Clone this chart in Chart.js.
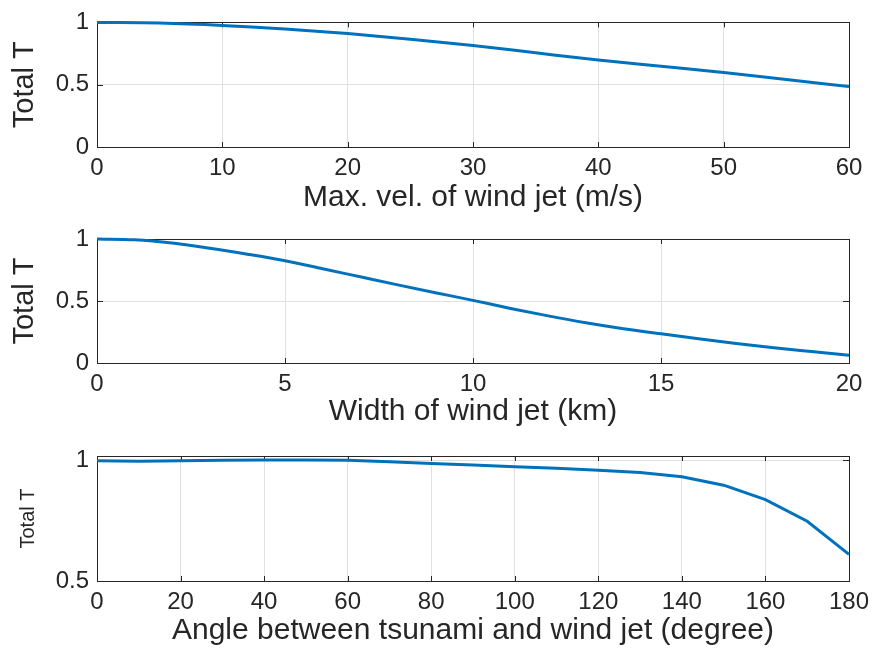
<!DOCTYPE html>
<html>
<head>
<meta charset="utf-8">
<script src="https://cdn.jsdelivr.net/npm/chart.js@4.4.1/dist/chart.umd.min.js"></script>
<style>
  body { margin: 0; background: #fff; }
  #wrap { position: relative; width: 877px; height: 658px; }
  canvas { position: absolute; left: 0; }
</style>
</head>
<body>
<div id="wrap">
  <canvas id="c1" width="877" height="216" style="top:0px"></canvas>
  <canvas id="c2" width="877" height="214" style="top:216px"></canvas>
  <canvas id="c3" width="877" height="228" style="top:430px"></canvas>
</div>
<script>
// Panel 1: max. velocity of wind jet (m/s)
const velX = [0, 5, 10, 15, 20, 25, 30, 35, 40, 45, 50, 55, 60];
const velT = [1.0, 0.995, 0.976, 0.947, 0.910, 0.865, 0.815, 0.756, 0.698, 0.648, 0.597, 0.541, 0.486];
const velTicks = [0, 10, 20, 30, 40, 50, 60];

// Panel 2: width of wind jet (km)
const widthX = [0, 1, 2, 3, 4, 5, 6, 7, 8, 9, 10, 11, 12, 13, 14, 15, 16, 17, 18, 19, 20];
const widthT = [1.0, 0.993, 0.967, 0.925, 0.877, 0.824, 0.76, 0.695, 0.63, 0.567, 0.505,
                0.44, 0.38, 0.325, 0.277, 0.235, 0.195, 0.158, 0.123, 0.092, 0.062];
const widthTicks = [0, 5, 10, 15, 20];

// Panel 3: angle between tsunami and wind jet (degree)
const angX = [0, 10, 20, 30, 40, 50, 60, 70, 80, 90, 100, 110, 120, 130, 140, 150, 160, 170, 180];
const angT = [0.997, 0.995, 0.997, 0.999, 1.0, 1.0, 0.999, 0.993, 0.986, 0.979, 0.972,
              0.966, 0.958, 0.948, 0.931, 0.896, 0.836, 0.747, 0.61];
const angTicks = [0, 20, 40, 60, 80, 100, 120, 140, 160, 180];

const yTicks01 = [0, 0.5, 1];
const yTicks3 = [0.5, 1];

const FONT = "'Liberation Sans', Arial, Helvetica, sans-serif";
const TXT = '#262626', GRID = '#e0e0e0', BLUE = '#0072BD';

// cadre + petites graduations vers l'intérieur (style MATLAB)
const boxPlugin = {
  id: 'box',
  beforeDatasetsDraw(chart){
    const {ctx, chartArea: a, scales} = chart;
    ctx.save();
    ctx.strokeStyle = TXT;
    ctx.lineWidth = 1;
    ctx.beginPath();
    scales.x.ticks.forEach(t=>{
      const px = Math.round(scales.x.getPixelForValue(t.value)) + 0.5;
      ctx.moveTo(px, a.bottom); ctx.lineTo(px, a.bottom - 5);
      ctx.moveTo(px, a.top); ctx.lineTo(px, a.top + 5);
    });
    scales.y.ticks.forEach(t=>{
      const py = Math.round(scales.y.getPixelForValue(t.value)) + 0.5;
      ctx.moveTo(a.left, py); ctx.lineTo(a.left + 6, py);
      ctx.moveTo(a.right, py); ctx.lineTo(a.right - 6, py);
    });
    ctx.stroke();
    ctx.strokeRect(Math.round(a.left) + 0.5, Math.round(a.top) + 0.5,
                   Math.round(a.width), Math.round(a.height));
    ctx.restore();
  }
};

function makePanel(id, xs, ys, cfg){
  const pts = xs.map((x, i) => ({x: x, y: ys[i]}));
  return new Chart(document.getElementById(id), {
    type: 'line',
    data: { datasets: [{
      data: pts,
      borderColor: BLUE,
      borderWidth: 3,
      pointRadius: 0,
      tension: 0,
      cubicInterpolationMode: cfg.smooth ? 'monotone' : 'default',
      clip: false
    }]},
    options: {
      responsive: false,
      animation: false,
      events: [],
      layout: { padding: { top: cfg.padTop, right: 28, bottom: cfg.padBottom || 0, left: 0 } },
      plugins: { legend: { display: false }, tooltip: { enabled: false } },
      scales: {
        x: {
          type: 'linear',
          min: xs[0], max: xs[xs.length - 1],
          afterBuildTicks: ax => { ax.ticks = cfg.xTicks.map(v => ({value: v})); },
          afterFit: ax => { ax.height = cfg.xAxisH; },
          grid: { color: GRID, drawTicks: false },
          border: { display: false },
          ticks: { color: TXT, font: { family: FONT, size: 24 }, padding: 7, maxRotation: 0,
                   callback: v => String(v) },
          title: { display: true, text: cfg.xTitle, color: TXT,
                   font: { family: FONT, size: 30 }, padding: { top: 0, bottom: 0 } }
        },
        y: {
          type: 'linear',
          min: cfg.yMin, max: cfg.yMax,
          afterBuildTicks: ax => { ax.ticks = cfg.yTicks.map(v => ({value: v})); },
          afterFit: ax => { ax.width = 97; },
          grid: { color: GRID, drawTicks: false },
          border: { display: false },
          ticks: { color: TXT, font: { family: FONT, size: 24 }, padding: 8,
                   callback: v => String(v) },
          title: { display: true, text: 'Total T', color: TXT,
                   font: { family: FONT, size: cfg.yTitleSize }, padding: { top: cfg.yTitlePad, bottom: 0 } }
        }
      }
    },
    plugins: [boxPlugin]
  });
}

makePanel('c1', velX, velT, {
  xTicks: velTicks, yTicks: yTicks01, yMin: 0, yMax: 1, padTop: 20, xAxisH: 69,
  xTitle: 'Max. vel. of wind jet (m/s)', yTitleSize: 29, yTitlePad: 8, smooth: true
});
makePanel('c2', widthX, widthT, {
  xTicks: widthTicks, yTicks: yTicks01, yMin: 0, yMax: 1, padTop: 23, xAxisH: 67,
  xTitle: 'Width of wind jet (km)', yTitleSize: 29, yTitlePad: 8, smooth: true
});
makePanel('c3', angX, angT, {
  xTicks: angTicks, yTicks: yTicks3, yMin: 0.5, yMax: 1.0166, padTop: 26, padBottom: 9, xAxisH: 68,
  xTitle: 'Angle between tsunami and wind jet (degree)', yTitleSize: 20, yTitlePad: 16, smooth: false
});
</script>
</body>
</html>
